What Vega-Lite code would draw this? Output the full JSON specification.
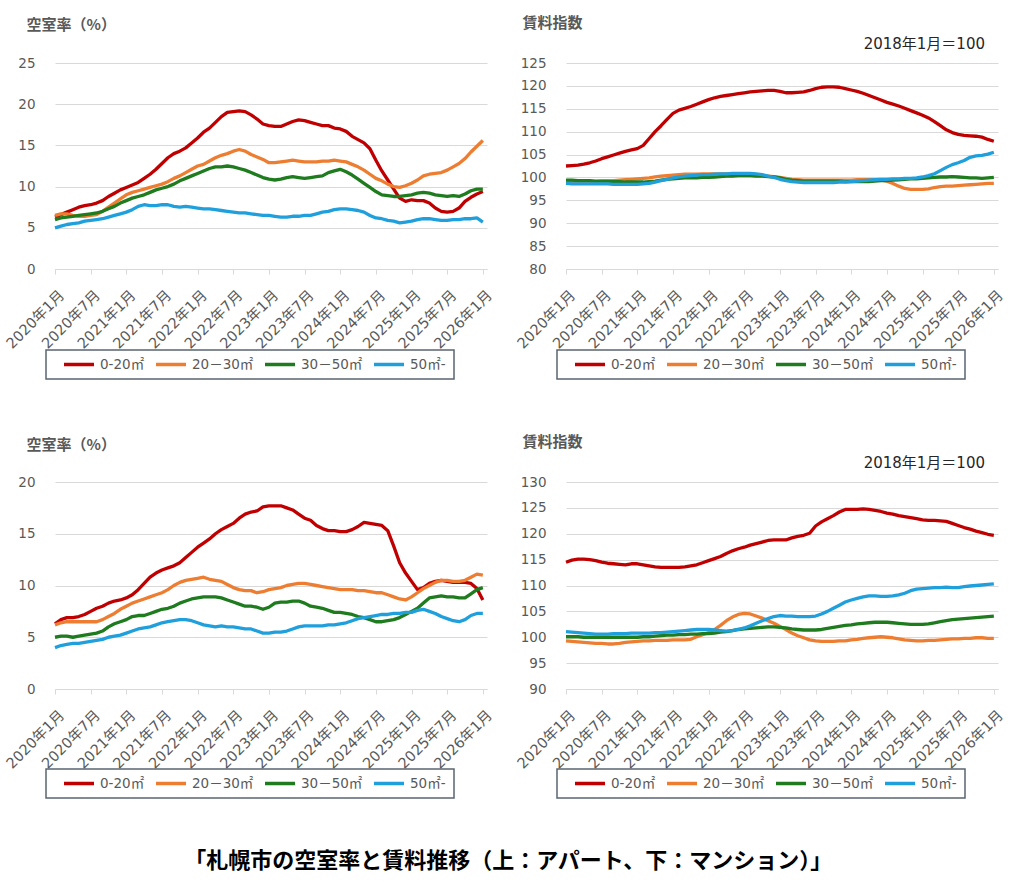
{
"$schema": "https://vega.github.io/schema/vega-lite/v6.json",
"background": "white",
"padding": {"left": 3, "top": 15, "right": 5, "bottom": 5},
"title": {"text": "「札幌市の空室率と賃料推移（上：アパート、下：マンション）」", "orient": "bottom", "anchor": "middle", "fontSize": 22, "fontWeight": "bold", "color": "#000000", "font": "Noto Sans CJK JP", "offset": 52, "dx": 4},
"datasets": {
"tl": [
{"s":"A","m":0,"v":6.3},{"s":"A","m":1,"v":6.6},{"s":"A","m":2,"v":6.9},{"s":"A","m":3,"v":7.2},{"s":"A","m":4,"v":7.5},{"s":"A","m":5,"v":7.7},{"s":"A","m":6,"v":7.8},{"s":"A","m":7,"v":8.0},{"s":"A","m":8,"v":8.3},{"s":"A","m":9,"v":8.8},
{"s":"A","m":10,"v":9.2},{"s":"A","m":11,"v":9.6},{"s":"A","m":12,"v":9.9},{"s":"A","m":13,"v":10.2},{"s":"A","m":14,"v":10.5},{"s":"A","m":15,"v":11.0},{"s":"A","m":16,"v":11.5},{"s":"A","m":17,"v":12.1},{"s":"A","m":18,"v":12.8},{"s":"A","m":19,"v":13.5},
{"s":"A","m":20,"v":14.0},{"s":"A","m":21,"v":14.3},{"s":"A","m":22,"v":14.7},{"s":"A","m":23,"v":15.3},{"s":"A","m":24,"v":15.9},{"s":"A","m":25,"v":16.6},{"s":"A","m":26,"v":17.1},{"s":"A","m":27,"v":17.8},{"s":"A","m":28,"v":18.5},{"s":"A","m":29,"v":19.0},
{"s":"A","m":30,"v":19.1},{"s":"A","m":31,"v":19.2},{"s":"A","m":32,"v":19.1},{"s":"A","m":33,"v":18.7},{"s":"A","m":34,"v":18.2},{"s":"A","m":35,"v":17.6},{"s":"A","m":36,"v":17.4},{"s":"A","m":37,"v":17.3},{"s":"A","m":38,"v":17.3},{"s":"A","m":39,"v":17.6},
{"s":"A","m":40,"v":17.9},{"s":"A","m":41,"v":18.1},{"s":"A","m":42,"v":18.0},{"s":"A","m":43,"v":17.8},{"s":"A","m":44,"v":17.6},{"s":"A","m":45,"v":17.4},{"s":"A","m":46,"v":17.4},{"s":"A","m":47,"v":17.1},{"s":"A","m":48,"v":17.0},{"s":"A","m":49,"v":16.7},
{"s":"A","m":50,"v":16.1},{"s":"A","m":51,"v":15.7},{"s":"A","m":52,"v":15.3},{"s":"A","m":53,"v":14.6},{"s":"A","m":54,"v":13.2},{"s":"A","m":55,"v":11.9},{"s":"A","m":56,"v":10.8},{"s":"A","m":57,"v":9.7},{"s":"A","m":58,"v":8.6},{"s":"A","m":59,"v":8.2},
{"s":"A","m":60,"v":8.4},{"s":"A","m":61,"v":8.3},{"s":"A","m":62,"v":8.3},{"s":"A","m":63,"v":8.0},{"s":"A","m":64,"v":7.4},{"s":"A","m":65,"v":7.0},{"s":"A","m":66,"v":6.9},{"s":"A","m":67,"v":7.0},{"s":"A","m":68,"v":7.4},{"s":"A","m":69,"v":8.2},
{"s":"A","m":70,"v":8.7},{"s":"A","m":71,"v":9.1},{"s":"A","m":72,"v":9.4},
{"s":"B","m":0,"v":6.5},{"s":"B","m":1,"v":6.7},{"s":"B","m":2,"v":6.7},{"s":"B","m":3,"v":6.5},{"s":"B","m":4,"v":6.4},{"s":"B","m":5,"v":6.4},{"s":"B","m":6,"v":6.5},{"s":"B","m":7,"v":6.6},{"s":"B","m":8,"v":7.0},{"s":"B","m":9,"v":7.5},
{"s":"B","m":10,"v":8.0},{"s":"B","m":11,"v":8.5},{"s":"B","m":12,"v":9.0},{"s":"B","m":13,"v":9.3},{"s":"B","m":14,"v":9.5},{"s":"B","m":15,"v":9.7},{"s":"B","m":16,"v":9.9},{"s":"B","m":17,"v":10.1},{"s":"B","m":18,"v":10.3},{"s":"B","m":19,"v":10.6},
{"s":"B","m":20,"v":11.0},{"s":"B","m":21,"v":11.3},{"s":"B","m":22,"v":11.7},{"s":"B","m":23,"v":12.1},{"s":"B","m":24,"v":12.5},{"s":"B","m":25,"v":12.7},{"s":"B","m":26,"v":13.1},{"s":"B","m":27,"v":13.5},{"s":"B","m":28,"v":13.8},{"s":"B","m":29,"v":14.0},
{"s":"B","m":30,"v":14.3},{"s":"B","m":31,"v":14.5},{"s":"B","m":32,"v":14.3},{"s":"B","m":33,"v":13.9},{"s":"B","m":34,"v":13.6},{"s":"B","m":35,"v":13.3},{"s":"B","m":36,"v":12.9},{"s":"B","m":37,"v":12.9},{"s":"B","m":38,"v":13.0},{"s":"B","m":39,"v":13.1},
{"s":"B","m":40,"v":13.2},{"s":"B","m":41,"v":13.1},{"s":"B","m":42,"v":13.0},{"s":"B","m":43,"v":13.0},{"s":"B","m":44,"v":13.0},{"s":"B","m":45,"v":13.1},{"s":"B","m":46,"v":13.1},{"s":"B","m":47,"v":13.2},{"s":"B","m":48,"v":13.1},{"s":"B","m":49,"v":13.0},
{"s":"B","m":50,"v":12.7},{"s":"B","m":51,"v":12.4},{"s":"B","m":52,"v":12.0},{"s":"B","m":53,"v":11.5},{"s":"B","m":54,"v":11.0},{"s":"B","m":55,"v":10.7},{"s":"B","m":56,"v":10.3},{"s":"B","m":57,"v":10.0},{"s":"B","m":58,"v":9.9},{"s":"B","m":59,"v":10.1},
{"s":"B","m":60,"v":10.4},{"s":"B","m":61,"v":10.8},{"s":"B","m":62,"v":11.3},{"s":"B","m":63,"v":11.5},{"s":"B","m":64,"v":11.6},{"s":"B","m":65,"v":11.7},{"s":"B","m":66,"v":12.0},{"s":"B","m":67,"v":12.4},{"s":"B","m":68,"v":12.8},{"s":"B","m":69,"v":13.4},
{"s":"B","m":70,"v":14.2},{"s":"B","m":71,"v":14.9},{"s":"B","m":72,"v":15.6},
{"s":"C","m":0,"v":6.0},{"s":"C","m":1,"v":6.2},{"s":"C","m":2,"v":6.3},{"s":"C","m":3,"v":6.4},{"s":"C","m":4,"v":6.5},{"s":"C","m":5,"v":6.6},{"s":"C","m":6,"v":6.7},{"s":"C","m":7,"v":6.8},{"s":"C","m":8,"v":7.0},{"s":"C","m":9,"v":7.3},
{"s":"C","m":10,"v":7.6},{"s":"C","m":11,"v":8.0},{"s":"C","m":12,"v":8.3},{"s":"C","m":13,"v":8.6},{"s":"C","m":14,"v":8.8},{"s":"C","m":15,"v":9.0},{"s":"C","m":16,"v":9.3},{"s":"C","m":17,"v":9.6},{"s":"C","m":18,"v":9.8},{"s":"C","m":19,"v":10.0},
{"s":"C","m":20,"v":10.3},{"s":"C","m":21,"v":10.7},{"s":"C","m":22,"v":11.0},{"s":"C","m":23,"v":11.3},{"s":"C","m":24,"v":11.6},{"s":"C","m":25,"v":11.9},{"s":"C","m":26,"v":12.2},{"s":"C","m":27,"v":12.4},{"s":"C","m":28,"v":12.4},{"s":"C","m":29,"v":12.5},
{"s":"C","m":30,"v":12.4},{"s":"C","m":31,"v":12.2},{"s":"C","m":32,"v":12.0},{"s":"C","m":33,"v":11.7},{"s":"C","m":34,"v":11.4},{"s":"C","m":35,"v":11.1},{"s":"C","m":36,"v":10.9},{"s":"C","m":37,"v":10.8},{"s":"C","m":38,"v":10.9},{"s":"C","m":39,"v":11.1},
{"s":"C","m":40,"v":11.2},{"s":"C","m":41,"v":11.1},{"s":"C","m":42,"v":11.0},{"s":"C","m":43,"v":11.1},{"s":"C","m":44,"v":11.2},{"s":"C","m":45,"v":11.3},{"s":"C","m":46,"v":11.7},{"s":"C","m":47,"v":11.9},{"s":"C","m":48,"v":12.1},{"s":"C","m":49,"v":11.8},
{"s":"C","m":50,"v":11.4},{"s":"C","m":51,"v":10.9},{"s":"C","m":52,"v":10.4},{"s":"C","m":53,"v":9.9},{"s":"C","m":54,"v":9.4},{"s":"C","m":55,"v":9.0},{"s":"C","m":56,"v":8.9},{"s":"C","m":57,"v":8.8},{"s":"C","m":58,"v":8.8},{"s":"C","m":59,"v":8.9},
{"s":"C","m":60,"v":9.0},{"s":"C","m":61,"v":9.2},{"s":"C","m":62,"v":9.3},{"s":"C","m":63,"v":9.2},{"s":"C","m":64,"v":9.0},{"s":"C","m":65,"v":8.9},{"s":"C","m":66,"v":8.8},{"s":"C","m":67,"v":8.9},{"s":"C","m":68,"v":8.8},{"s":"C","m":69,"v":9.1},
{"s":"C","m":70,"v":9.5},{"s":"C","m":71,"v":9.7},{"s":"C","m":72,"v":9.7},
{"s":"D","m":0,"v":5.0},{"s":"D","m":1,"v":5.2},{"s":"D","m":2,"v":5.4},{"s":"D","m":3,"v":5.5},{"s":"D","m":4,"v":5.6},{"s":"D","m":5,"v":5.8},{"s":"D","m":6,"v":5.9},{"s":"D","m":7,"v":6.0},{"s":"D","m":8,"v":6.1},{"s":"D","m":9,"v":6.3},
{"s":"D","m":10,"v":6.5},{"s":"D","m":11,"v":6.7},{"s":"D","m":12,"v":6.9},{"s":"D","m":13,"v":7.2},{"s":"D","m":14,"v":7.6},{"s":"D","m":15,"v":7.8},{"s":"D","m":16,"v":7.7},{"s":"D","m":17,"v":7.7},{"s":"D","m":18,"v":7.8},{"s":"D","m":19,"v":7.8},
{"s":"D","m":20,"v":7.6},{"s":"D","m":21,"v":7.5},{"s":"D","m":22,"v":7.6},{"s":"D","m":23,"v":7.5},{"s":"D","m":24,"v":7.4},{"s":"D","m":25,"v":7.3},{"s":"D","m":26,"v":7.3},{"s":"D","m":27,"v":7.2},{"s":"D","m":28,"v":7.1},{"s":"D","m":29,"v":7.0},
{"s":"D","m":30,"v":6.9},{"s":"D","m":31,"v":6.8},{"s":"D","m":32,"v":6.8},{"s":"D","m":33,"v":6.7},{"s":"D","m":34,"v":6.6},{"s":"D","m":35,"v":6.5},{"s":"D","m":36,"v":6.5},{"s":"D","m":37,"v":6.4},{"s":"D","m":38,"v":6.3},{"s":"D","m":39,"v":6.3},
{"s":"D","m":40,"v":6.4},{"s":"D","m":41,"v":6.4},{"s":"D","m":42,"v":6.5},{"s":"D","m":43,"v":6.5},{"s":"D","m":44,"v":6.7},{"s":"D","m":45,"v":6.9},{"s":"D","m":46,"v":7.0},{"s":"D","m":47,"v":7.2},{"s":"D","m":48,"v":7.3},{"s":"D","m":49,"v":7.3},
{"s":"D","m":50,"v":7.2},{"s":"D","m":51,"v":7.1},{"s":"D","m":52,"v":6.9},{"s":"D","m":53,"v":6.5},{"s":"D","m":54,"v":6.2},{"s":"D","m":55,"v":6.1},{"s":"D","m":56,"v":5.9},{"s":"D","m":57,"v":5.8},{"s":"D","m":58,"v":5.6},{"s":"D","m":59,"v":5.7},
{"s":"D","m":60,"v":5.8},{"s":"D","m":61,"v":6.0},{"s":"D","m":62,"v":6.1},{"s":"D","m":63,"v":6.1},{"s":"D","m":64,"v":6.0},{"s":"D","m":65,"v":5.9},{"s":"D","m":66,"v":5.9},{"s":"D","m":67,"v":6.0},{"s":"D","m":68,"v":6.0},{"s":"D","m":69,"v":6.1},
{"s":"D","m":70,"v":6.1},{"s":"D","m":71,"v":6.2},{"s":"D","m":72,"v":5.7}
],
"tr": [
{"s":"A","m":0,"v":102.5},{"s":"A","m":1,"v":102.6},{"s":"A","m":2,"v":102.7},{"s":"A","m":3,"v":102.9},{"s":"A","m":4,"v":103.2},{"s":"A","m":5,"v":103.6},{"s":"A","m":6,"v":104.1},{"s":"A","m":7,"v":104.5},{"s":"A","m":8,"v":104.9},{"s":"A","m":9,"v":105.3},
{"s":"A","m":10,"v":105.7},{"s":"A","m":11,"v":106.0},{"s":"A","m":12,"v":106.3},{"s":"A","m":13,"v":107.0},{"s":"A","m":14,"v":108.5},{"s":"A","m":15,"v":110.0},{"s":"A","m":16,"v":111.3},{"s":"A","m":17,"v":112.7},{"s":"A","m":18,"v":114.0},{"s":"A","m":19,"v":114.7},
{"s":"A","m":20,"v":115.1},{"s":"A","m":21,"v":115.5},{"s":"A","m":22,"v":116.0},{"s":"A","m":23,"v":116.5},{"s":"A","m":24,"v":117.0},{"s":"A","m":25,"v":117.4},{"s":"A","m":26,"v":117.7},{"s":"A","m":27,"v":117.9},{"s":"A","m":28,"v":118.1},{"s":"A","m":29,"v":118.3},
{"s":"A","m":30,"v":118.5},{"s":"A","m":31,"v":118.7},{"s":"A","m":32,"v":118.8},{"s":"A","m":33,"v":118.9},{"s":"A","m":34,"v":119.0},{"s":"A","m":35,"v":119.0},{"s":"A","m":36,"v":118.8},{"s":"A","m":37,"v":118.5},{"s":"A","m":38,"v":118.5},{"s":"A","m":39,"v":118.6},
{"s":"A","m":40,"v":118.7},{"s":"A","m":41,"v":119.0},{"s":"A","m":42,"v":119.4},{"s":"A","m":43,"v":119.7},{"s":"A","m":44,"v":119.8},{"s":"A","m":45,"v":119.8},{"s":"A","m":46,"v":119.7},{"s":"A","m":47,"v":119.4},{"s":"A","m":48,"v":119.1},{"s":"A","m":49,"v":118.8},
{"s":"A","m":50,"v":118.4},{"s":"A","m":51,"v":117.9},{"s":"A","m":52,"v":117.4},{"s":"A","m":53,"v":116.9},{"s":"A","m":54,"v":116.4},{"s":"A","m":55,"v":116.0},{"s":"A","m":56,"v":115.6},{"s":"A","m":57,"v":115.1},{"s":"A","m":58,"v":114.6},{"s":"A","m":59,"v":114.1},
{"s":"A","m":60,"v":113.6},{"s":"A","m":61,"v":113.0},{"s":"A","m":62,"v":112.2},{"s":"A","m":63,"v":111.3},{"s":"A","m":64,"v":110.4},{"s":"A","m":65,"v":109.8},{"s":"A","m":66,"v":109.4},{"s":"A","m":67,"v":109.2},{"s":"A","m":68,"v":109.1},{"s":"A","m":69,"v":109.0},
{"s":"A","m":70,"v":108.8},{"s":"A","m":71,"v":108.3},{"s":"A","m":72,"v":107.9},
{"s":"B","m":0,"v":99.0},{"s":"B","m":1,"v":99.0},{"s":"B","m":2,"v":99.0},{"s":"B","m":3,"v":99.0},{"s":"B","m":4,"v":99.1},{"s":"B","m":5,"v":99.1},{"s":"B","m":6,"v":99.2},{"s":"B","m":7,"v":99.2},{"s":"B","m":8,"v":99.3},{"s":"B","m":9,"v":99.4},
{"s":"B","m":10,"v":99.5},{"s":"B","m":11,"v":99.6},{"s":"B","m":12,"v":99.7},{"s":"B","m":13,"v":99.8},{"s":"B","m":14,"v":99.9},{"s":"B","m":15,"v":100.1},{"s":"B","m":16,"v":100.3},{"s":"B","m":17,"v":100.4},{"s":"B","m":18,"v":100.5},{"s":"B","m":19,"v":100.6},
{"s":"B","m":20,"v":100.7},{"s":"B","m":21,"v":100.7},{"s":"B","m":22,"v":100.7},{"s":"B","m":23,"v":100.8},{"s":"B","m":24,"v":100.8},{"s":"B","m":25,"v":100.8},{"s":"B","m":26,"v":100.8},{"s":"B","m":27,"v":100.8},{"s":"B","m":28,"v":100.8},{"s":"B","m":29,"v":100.7},
{"s":"B","m":30,"v":100.7},{"s":"B","m":31,"v":100.6},{"s":"B","m":32,"v":100.5},{"s":"B","m":33,"v":100.4},{"s":"B","m":34,"v":100.3},{"s":"B","m":35,"v":100.2},{"s":"B","m":36,"v":100.0},{"s":"B","m":37,"v":99.8},{"s":"B","m":38,"v":99.6},{"s":"B","m":39,"v":99.5},
{"s":"B","m":40,"v":99.4},{"s":"B","m":41,"v":99.4},{"s":"B","m":42,"v":99.4},{"s":"B","m":43,"v":99.4},{"s":"B","m":44,"v":99.4},{"s":"B","m":45,"v":99.4},{"s":"B","m":46,"v":99.4},{"s":"B","m":47,"v":99.4},{"s":"B","m":48,"v":99.4},{"s":"B","m":49,"v":99.5},
{"s":"B","m":50,"v":99.5},{"s":"B","m":51,"v":99.5},{"s":"B","m":52,"v":99.5},{"s":"B","m":53,"v":99.4},{"s":"B","m":54,"v":99.2},{"s":"B","m":55,"v":98.7},{"s":"B","m":56,"v":98.1},{"s":"B","m":57,"v":97.6},{"s":"B","m":58,"v":97.4},{"s":"B","m":59,"v":97.4},
{"s":"B","m":60,"v":97.4},{"s":"B","m":61,"v":97.5},{"s":"B","m":62,"v":97.8},{"s":"B","m":63,"v":98.0},{"s":"B","m":64,"v":98.1},{"s":"B","m":65,"v":98.1},{"s":"B","m":66,"v":98.2},{"s":"B","m":67,"v":98.3},{"s":"B","m":68,"v":98.4},{"s":"B","m":69,"v":98.5},
{"s":"B","m":70,"v":98.6},{"s":"B","m":71,"v":98.7},{"s":"B","m":72,"v":98.7},
{"s":"C","m":0,"v":99.4},{"s":"C","m":1,"v":99.4},{"s":"C","m":2,"v":99.3},{"s":"C","m":3,"v":99.3},{"s":"C","m":4,"v":99.3},{"s":"C","m":5,"v":99.2},{"s":"C","m":6,"v":99.2},{"s":"C","m":7,"v":99.2},{"s":"C","m":8,"v":99.1},{"s":"C","m":9,"v":99.1},
{"s":"C","m":10,"v":99.0},{"s":"C","m":11,"v":99.0},{"s":"C","m":12,"v":99.0},{"s":"C","m":13,"v":99.0},{"s":"C","m":14,"v":99.1},{"s":"C","m":15,"v":99.2},{"s":"C","m":16,"v":99.4},{"s":"C","m":17,"v":99.6},{"s":"C","m":18,"v":99.7},{"s":"C","m":19,"v":99.8},
{"s":"C","m":20,"v":99.9},{"s":"C","m":21,"v":99.9},{"s":"C","m":22,"v":99.9},{"s":"C","m":23,"v":100.0},{"s":"C","m":24,"v":100.0},{"s":"C","m":25,"v":100.1},{"s":"C","m":26,"v":100.2},{"s":"C","m":27,"v":100.3},{"s":"C","m":28,"v":100.3},{"s":"C","m":29,"v":100.4},
{"s":"C","m":30,"v":100.4},{"s":"C","m":31,"v":100.4},{"s":"C","m":32,"v":100.3},{"s":"C","m":33,"v":100.3},{"s":"C","m":34,"v":100.2},{"s":"C","m":35,"v":100.1},{"s":"C","m":36,"v":99.9},{"s":"C","m":37,"v":99.6},{"s":"C","m":38,"v":99.4},{"s":"C","m":39,"v":99.3},
{"s":"C","m":40,"v":99.2},{"s":"C","m":41,"v":99.2},{"s":"C","m":42,"v":99.2},{"s":"C","m":43,"v":99.2},{"s":"C","m":44,"v":99.2},{"s":"C","m":45,"v":99.2},{"s":"C","m":46,"v":99.2},{"s":"C","m":47,"v":99.1},{"s":"C","m":48,"v":99.1},{"s":"C","m":49,"v":99.1},
{"s":"C","m":50,"v":99.1},{"s":"C","m":51,"v":99.1},{"s":"C","m":52,"v":99.2},{"s":"C","m":53,"v":99.3},{"s":"C","m":54,"v":99.3},{"s":"C","m":55,"v":99.4},{"s":"C","m":56,"v":99.5},{"s":"C","m":57,"v":99.6},{"s":"C","m":58,"v":99.7},{"s":"C","m":59,"v":99.7},
{"s":"C","m":60,"v":99.8},{"s":"C","m":61,"v":99.9},{"s":"C","m":62,"v":100.0},{"s":"C","m":63,"v":100.1},{"s":"C","m":64,"v":100.1},{"s":"C","m":65,"v":100.2},{"s":"C","m":66,"v":100.1},{"s":"C","m":67,"v":100.0},{"s":"C","m":68,"v":99.9},{"s":"C","m":69,"v":99.9},
{"s":"C","m":70,"v":99.8},{"s":"C","m":71,"v":99.9},{"s":"C","m":72,"v":100.0},
{"s":"D","m":0,"v":98.7},{"s":"D","m":1,"v":98.6},{"s":"D","m":2,"v":98.6},{"s":"D","m":3,"v":98.6},{"s":"D","m":4,"v":98.6},{"s":"D","m":5,"v":98.6},{"s":"D","m":6,"v":98.6},{"s":"D","m":7,"v":98.6},{"s":"D","m":8,"v":98.5},{"s":"D","m":9,"v":98.5},
{"s":"D","m":10,"v":98.5},{"s":"D","m":11,"v":98.5},{"s":"D","m":12,"v":98.5},{"s":"D","m":13,"v":98.6},{"s":"D","m":14,"v":98.7},{"s":"D","m":15,"v":99.0},{"s":"D","m":16,"v":99.3},{"s":"D","m":17,"v":99.6},{"s":"D","m":18,"v":99.9},{"s":"D","m":19,"v":100.1},
{"s":"D","m":20,"v":100.3},{"s":"D","m":21,"v":100.4},{"s":"D","m":22,"v":100.5},{"s":"D","m":23,"v":100.6},{"s":"D","m":24,"v":100.6},{"s":"D","m":25,"v":100.7},{"s":"D","m":26,"v":100.8},{"s":"D","m":27,"v":100.8},{"s":"D","m":28,"v":100.9},{"s":"D","m":29,"v":100.9},
{"s":"D","m":30,"v":100.9},{"s":"D","m":31,"v":100.9},{"s":"D","m":32,"v":100.8},{"s":"D","m":33,"v":100.6},{"s":"D","m":34,"v":100.3},{"s":"D","m":35,"v":100.0},{"s":"D","m":36,"v":99.6},{"s":"D","m":37,"v":99.3},{"s":"D","m":38,"v":99.1},{"s":"D","m":39,"v":99.0},
{"s":"D","m":40,"v":98.9},{"s":"D","m":41,"v":98.9},{"s":"D","m":42,"v":98.9},{"s":"D","m":43,"v":98.9},{"s":"D","m":44,"v":98.9},{"s":"D","m":45,"v":98.9},{"s":"D","m":46,"v":99.0},{"s":"D","m":47,"v":99.0},{"s":"D","m":48,"v":99.1},{"s":"D","m":49,"v":99.2},
{"s":"D","m":50,"v":99.3},{"s":"D","m":51,"v":99.4},{"s":"D","m":52,"v":99.5},{"s":"D","m":53,"v":99.6},{"s":"D","m":54,"v":99.6},{"s":"D","m":55,"v":99.7},{"s":"D","m":56,"v":99.7},{"s":"D","m":57,"v":99.8},{"s":"D","m":58,"v":99.8},{"s":"D","m":59,"v":99.9},
{"s":"D","m":60,"v":100.1},{"s":"D","m":61,"v":100.4},{"s":"D","m":62,"v":100.8},{"s":"D","m":63,"v":101.5},{"s":"D","m":64,"v":102.2},{"s":"D","m":65,"v":102.8},{"s":"D","m":66,"v":103.2},{"s":"D","m":67,"v":103.7},{"s":"D","m":68,"v":104.4},{"s":"D","m":69,"v":104.7},
{"s":"D","m":70,"v":104.8},{"s":"D","m":71,"v":105.1},{"s":"D","m":72,"v":105.5}
],
"bl": [
{"s":"A","m":0,"v":6.3},{"s":"A","m":1,"v":6.7},{"s":"A","m":2,"v":6.9},{"s":"A","m":3,"v":6.9},{"s":"A","m":4,"v":7.0},{"s":"A","m":5,"v":7.2},{"s":"A","m":6,"v":7.5},{"s":"A","m":7,"v":7.8},{"s":"A","m":8,"v":8.0},{"s":"A","m":9,"v":8.3},
{"s":"A","m":10,"v":8.5},{"s":"A","m":11,"v":8.6},{"s":"A","m":12,"v":8.8},{"s":"A","m":13,"v":9.1},{"s":"A","m":14,"v":9.6},{"s":"A","m":15,"v":10.2},{"s":"A","m":16,"v":10.8},{"s":"A","m":17,"v":11.2},{"s":"A","m":18,"v":11.5},{"s":"A","m":19,"v":11.7},
{"s":"A","m":20,"v":11.9},{"s":"A","m":21,"v":12.2},{"s":"A","m":22,"v":12.7},{"s":"A","m":23,"v":13.2},{"s":"A","m":24,"v":13.7},{"s":"A","m":25,"v":14.1},{"s":"A","m":26,"v":14.5},{"s":"A","m":27,"v":15.0},{"s":"A","m":28,"v":15.4},{"s":"A","m":29,"v":15.7},
{"s":"A","m":30,"v":16.0},{"s":"A","m":31,"v":16.5},{"s":"A","m":32,"v":16.9},{"s":"A","m":33,"v":17.1},{"s":"A","m":34,"v":17.2},{"s":"A","m":35,"v":17.6},{"s":"A","m":36,"v":17.7},{"s":"A","m":37,"v":17.7},{"s":"A","m":38,"v":17.7},{"s":"A","m":39,"v":17.5},
{"s":"A","m":40,"v":17.3},{"s":"A","m":41,"v":16.9},{"s":"A","m":42,"v":16.5},{"s":"A","m":43,"v":16.3},{"s":"A","m":44,"v":15.8},{"s":"A","m":45,"v":15.5},{"s":"A","m":46,"v":15.3},{"s":"A","m":47,"v":15.3},{"s":"A","m":48,"v":15.2},{"s":"A","m":49,"v":15.2},
{"s":"A","m":50,"v":15.4},{"s":"A","m":51,"v":15.7},{"s":"A","m":52,"v":16.1},{"s":"A","m":53,"v":16.0},{"s":"A","m":54,"v":15.9},{"s":"A","m":55,"v":15.8},{"s":"A","m":56,"v":15.3},{"s":"A","m":57,"v":13.8},{"s":"A","m":58,"v":12.2},{"s":"A","m":59,"v":11.2},
{"s":"A","m":60,"v":10.4},{"s":"A","m":61,"v":9.6},{"s":"A","m":62,"v":9.8},{"s":"A","m":63,"v":10.2},{"s":"A","m":64,"v":10.4},{"s":"A","m":65,"v":10.5},{"s":"A","m":66,"v":10.4},{"s":"A","m":67,"v":10.3},{"s":"A","m":68,"v":10.3},{"s":"A","m":69,"v":10.3},
{"s":"A","m":70,"v":10.2},{"s":"A","m":71,"v":9.7},{"s":"A","m":72,"v":8.6},
{"s":"B","m":0,"v":6.2},{"s":"B","m":1,"v":6.4},{"s":"B","m":2,"v":6.5},{"s":"B","m":3,"v":6.5},{"s":"B","m":4,"v":6.5},{"s":"B","m":5,"v":6.5},{"s":"B","m":6,"v":6.5},{"s":"B","m":7,"v":6.5},{"s":"B","m":8,"v":6.7},{"s":"B","m":9,"v":7.0},
{"s":"B","m":10,"v":7.3},{"s":"B","m":11,"v":7.7},{"s":"B","m":12,"v":8.0},{"s":"B","m":13,"v":8.3},{"s":"B","m":14,"v":8.5},{"s":"B","m":15,"v":8.7},{"s":"B","m":16,"v":8.9},{"s":"B","m":17,"v":9.1},{"s":"B","m":18,"v":9.3},{"s":"B","m":19,"v":9.6},
{"s":"B","m":20,"v":10.0},{"s":"B","m":21,"v":10.3},{"s":"B","m":22,"v":10.5},{"s":"B","m":23,"v":10.6},{"s":"B","m":24,"v":10.7},{"s":"B","m":25,"v":10.8},{"s":"B","m":26,"v":10.6},{"s":"B","m":27,"v":10.5},{"s":"B","m":28,"v":10.4},{"s":"B","m":29,"v":10.1},
{"s":"B","m":30,"v":9.8},{"s":"B","m":31,"v":9.6},{"s":"B","m":32,"v":9.5},{"s":"B","m":33,"v":9.5},{"s":"B","m":34,"v":9.3},{"s":"B","m":35,"v":9.4},{"s":"B","m":36,"v":9.6},{"s":"B","m":37,"v":9.7},{"s":"B","m":38,"v":9.8},{"s":"B","m":39,"v":10.0},
{"s":"B","m":40,"v":10.1},{"s":"B","m":41,"v":10.2},{"s":"B","m":42,"v":10.2},{"s":"B","m":43,"v":10.1},{"s":"B","m":44,"v":10.0},{"s":"B","m":45,"v":9.9},{"s":"B","m":46,"v":9.8},{"s":"B","m":47,"v":9.7},{"s":"B","m":48,"v":9.6},{"s":"B","m":49,"v":9.6},
{"s":"B","m":50,"v":9.6},{"s":"B","m":51,"v":9.5},{"s":"B","m":52,"v":9.5},{"s":"B","m":53,"v":9.4},{"s":"B","m":54,"v":9.3},{"s":"B","m":55,"v":9.3},{"s":"B","m":56,"v":9.1},{"s":"B","m":57,"v":8.9},{"s":"B","m":58,"v":8.7},{"s":"B","m":59,"v":8.6},
{"s":"B","m":60,"v":8.9},{"s":"B","m":61,"v":9.3},{"s":"B","m":62,"v":9.7},{"s":"B","m":63,"v":10.0},{"s":"B","m":64,"v":10.3},{"s":"B","m":65,"v":10.5},{"s":"B","m":66,"v":10.5},{"s":"B","m":67,"v":10.4},{"s":"B","m":68,"v":10.4},{"s":"B","m":69,"v":10.5},
{"s":"B","m":70,"v":10.8},{"s":"B","m":71,"v":11.1},{"s":"B","m":72,"v":11.0},
{"s":"C","m":0,"v":5.0},{"s":"C","m":1,"v":5.1},{"s":"C","m":2,"v":5.1},{"s":"C","m":3,"v":5.0},{"s":"C","m":4,"v":5.1},{"s":"C","m":5,"v":5.2},{"s":"C","m":6,"v":5.3},{"s":"C","m":7,"v":5.4},{"s":"C","m":8,"v":5.6},{"s":"C","m":9,"v":6.0},
{"s":"C","m":10,"v":6.3},{"s":"C","m":11,"v":6.5},{"s":"C","m":12,"v":6.7},{"s":"C","m":13,"v":7.0},{"s":"C","m":14,"v":7.1},{"s":"C","m":15,"v":7.1},{"s":"C","m":16,"v":7.3},{"s":"C","m":17,"v":7.5},{"s":"C","m":18,"v":7.7},{"s":"C","m":19,"v":7.8},
{"s":"C","m":20,"v":8.0},{"s":"C","m":21,"v":8.3},{"s":"C","m":22,"v":8.5},{"s":"C","m":23,"v":8.7},{"s":"C","m":24,"v":8.8},{"s":"C","m":25,"v":8.9},{"s":"C","m":26,"v":8.9},{"s":"C","m":27,"v":8.9},{"s":"C","m":28,"v":8.8},{"s":"C","m":29,"v":8.6},
{"s":"C","m":30,"v":8.4},{"s":"C","m":31,"v":8.2},{"s":"C","m":32,"v":8.0},{"s":"C","m":33,"v":8.0},{"s":"C","m":34,"v":7.9},{"s":"C","m":35,"v":7.7},{"s":"C","m":36,"v":7.9},{"s":"C","m":37,"v":8.3},{"s":"C","m":38,"v":8.4},{"s":"C","m":39,"v":8.4},
{"s":"C","m":40,"v":8.5},{"s":"C","m":41,"v":8.5},{"s":"C","m":42,"v":8.3},{"s":"C","m":43,"v":8.0},{"s":"C","m":44,"v":7.9},{"s":"C","m":45,"v":7.8},{"s":"C","m":46,"v":7.6},{"s":"C","m":47,"v":7.4},{"s":"C","m":48,"v":7.4},{"s":"C","m":49,"v":7.3},
{"s":"C","m":50,"v":7.2},{"s":"C","m":51,"v":7.0},{"s":"C","m":52,"v":6.9},{"s":"C","m":53,"v":6.7},{"s":"C","m":54,"v":6.5},{"s":"C","m":55,"v":6.5},{"s":"C","m":56,"v":6.6},{"s":"C","m":57,"v":6.7},{"s":"C","m":58,"v":6.9},{"s":"C","m":59,"v":7.2},
{"s":"C","m":60,"v":7.5},{"s":"C","m":61,"v":7.8},{"s":"C","m":62,"v":8.3},{"s":"C","m":63,"v":8.8},{"s":"C","m":64,"v":8.9},{"s":"C","m":65,"v":9.0},{"s":"C","m":66,"v":8.9},{"s":"C","m":67,"v":8.9},{"s":"C","m":68,"v":8.8},{"s":"C","m":69,"v":8.8},
{"s":"C","m":70,"v":9.2},{"s":"C","m":71,"v":9.6},{"s":"C","m":72,"v":9.8},
{"s":"D","m":0,"v":4.0},{"s":"D","m":1,"v":4.2},{"s":"D","m":2,"v":4.3},{"s":"D","m":3,"v":4.4},{"s":"D","m":4,"v":4.4},{"s":"D","m":5,"v":4.5},{"s":"D","m":6,"v":4.6},{"s":"D","m":7,"v":4.7},{"s":"D","m":8,"v":4.8},{"s":"D","m":9,"v":5.0},
{"s":"D","m":10,"v":5.1},{"s":"D","m":11,"v":5.2},{"s":"D","m":12,"v":5.4},{"s":"D","m":13,"v":5.6},{"s":"D","m":14,"v":5.8},{"s":"D","m":15,"v":5.9},{"s":"D","m":16,"v":6.0},{"s":"D","m":17,"v":6.2},{"s":"D","m":18,"v":6.4},{"s":"D","m":19,"v":6.5},
{"s":"D","m":20,"v":6.6},{"s":"D","m":21,"v":6.7},{"s":"D","m":22,"v":6.7},{"s":"D","m":23,"v":6.6},{"s":"D","m":24,"v":6.4},{"s":"D","m":25,"v":6.2},{"s":"D","m":26,"v":6.1},{"s":"D","m":27,"v":6.0},{"s":"D","m":28,"v":6.1},{"s":"D","m":29,"v":6.0},
{"s":"D","m":30,"v":6.0},{"s":"D","m":31,"v":5.9},{"s":"D","m":32,"v":5.8},{"s":"D","m":33,"v":5.8},{"s":"D","m":34,"v":5.6},{"s":"D","m":35,"v":5.4},{"s":"D","m":36,"v":5.4},{"s":"D","m":37,"v":5.5},{"s":"D","m":38,"v":5.5},{"s":"D","m":39,"v":5.6},
{"s":"D","m":40,"v":5.8},{"s":"D","m":41,"v":6.0},{"s":"D","m":42,"v":6.1},{"s":"D","m":43,"v":6.1},{"s":"D","m":44,"v":6.1},{"s":"D","m":45,"v":6.1},{"s":"D","m":46,"v":6.2},{"s":"D","m":47,"v":6.2},{"s":"D","m":48,"v":6.3},{"s":"D","m":49,"v":6.4},
{"s":"D","m":50,"v":6.6},{"s":"D","m":51,"v":6.8},{"s":"D","m":52,"v":6.9},{"s":"D","m":53,"v":7.0},{"s":"D","m":54,"v":7.1},{"s":"D","m":55,"v":7.2},{"s":"D","m":56,"v":7.2},{"s":"D","m":57,"v":7.3},{"s":"D","m":58,"v":7.3},{"s":"D","m":59,"v":7.4},
{"s":"D","m":60,"v":7.4},{"s":"D","m":61,"v":7.6},{"s":"D","m":62,"v":7.7},{"s":"D","m":63,"v":7.5},{"s":"D","m":64,"v":7.3},{"s":"D","m":65,"v":7.0},{"s":"D","m":66,"v":6.8},{"s":"D","m":67,"v":6.6},{"s":"D","m":68,"v":6.5},{"s":"D","m":69,"v":6.7},
{"s":"D","m":70,"v":7.1},{"s":"D","m":71,"v":7.3},{"s":"D","m":72,"v":7.3}
],
"br": [
{"s":"A","m":0,"v":114.5},{"s":"A","m":1,"v":114.9},{"s":"A","m":2,"v":115.1},{"s":"A","m":3,"v":115.1},{"s":"A","m":4,"v":115.0},{"s":"A","m":5,"v":114.8},{"s":"A","m":6,"v":114.5},{"s":"A","m":7,"v":114.3},{"s":"A","m":8,"v":114.2},{"s":"A","m":9,"v":114.1},
{"s":"A","m":10,"v":114.0},{"s":"A","m":11,"v":114.2},{"s":"A","m":12,"v":114.2},{"s":"A","m":13,"v":114.0},{"s":"A","m":14,"v":113.8},{"s":"A","m":15,"v":113.6},{"s":"A","m":16,"v":113.5},{"s":"A","m":17,"v":113.5},{"s":"A","m":18,"v":113.5},{"s":"A","m":19,"v":113.5},
{"s":"A","m":20,"v":113.6},{"s":"A","m":21,"v":113.8},{"s":"A","m":22,"v":114.0},{"s":"A","m":23,"v":114.4},{"s":"A","m":24,"v":114.8},{"s":"A","m":25,"v":115.2},{"s":"A","m":26,"v":115.6},{"s":"A","m":27,"v":116.2},{"s":"A","m":28,"v":116.7},{"s":"A","m":29,"v":117.1},
{"s":"A","m":30,"v":117.4},{"s":"A","m":31,"v":117.8},{"s":"A","m":32,"v":118.1},{"s":"A","m":33,"v":118.4},{"s":"A","m":34,"v":118.7},{"s":"A","m":35,"v":118.8},{"s":"A","m":36,"v":118.8},{"s":"A","m":37,"v":118.8},{"s":"A","m":38,"v":119.2},{"s":"A","m":39,"v":119.5},
{"s":"A","m":40,"v":119.7},{"s":"A","m":41,"v":120.1},{"s":"A","m":42,"v":121.5},{"s":"A","m":43,"v":122.3},{"s":"A","m":44,"v":122.9},{"s":"A","m":45,"v":123.5},{"s":"A","m":46,"v":124.2},{"s":"A","m":47,"v":124.7},{"s":"A","m":48,"v":124.7},{"s":"A","m":49,"v":124.7},
{"s":"A","m":50,"v":124.8},{"s":"A","m":51,"v":124.7},{"s":"A","m":52,"v":124.5},{"s":"A","m":53,"v":124.3},{"s":"A","m":54,"v":124.0},{"s":"A","m":55,"v":123.8},{"s":"A","m":56,"v":123.5},{"s":"A","m":57,"v":123.3},{"s":"A","m":58,"v":123.1},{"s":"A","m":59,"v":122.9},
{"s":"A","m":60,"v":122.7},{"s":"A","m":61,"v":122.6},{"s":"A","m":62,"v":122.6},{"s":"A","m":63,"v":122.5},{"s":"A","m":64,"v":122.4},{"s":"A","m":65,"v":122.0},{"s":"A","m":66,"v":121.6},{"s":"A","m":67,"v":121.2},{"s":"A","m":68,"v":120.9},{"s":"A","m":69,"v":120.5},
{"s":"A","m":70,"v":120.2},{"s":"A","m":71,"v":119.9},{"s":"A","m":72,"v":119.7},
{"s":"B","m":0,"v":99.3},{"s":"B","m":1,"v":99.2},{"s":"B","m":2,"v":99.1},{"s":"B","m":3,"v":99.0},{"s":"B","m":4,"v":98.9},{"s":"B","m":5,"v":98.8},{"s":"B","m":6,"v":98.8},{"s":"B","m":7,"v":98.7},{"s":"B","m":8,"v":98.7},{"s":"B","m":9,"v":98.8},
{"s":"B","m":10,"v":99.0},{"s":"B","m":11,"v":99.1},{"s":"B","m":12,"v":99.2},{"s":"B","m":13,"v":99.3},{"s":"B","m":14,"v":99.3},{"s":"B","m":15,"v":99.4},{"s":"B","m":16,"v":99.4},{"s":"B","m":17,"v":99.4},{"s":"B","m":18,"v":99.5},{"s":"B","m":19,"v":99.5},
{"s":"B","m":20,"v":99.5},{"s":"B","m":21,"v":99.6},{"s":"B","m":22,"v":100.1},{"s":"B","m":23,"v":100.5},{"s":"B","m":24,"v":100.9},{"s":"B","m":25,"v":101.5},{"s":"B","m":26,"v":102.3},{"s":"B","m":27,"v":103.2},{"s":"B","m":28,"v":103.9},{"s":"B","m":29,"v":104.4},
{"s":"B","m":30,"v":104.6},{"s":"B","m":31,"v":104.5},{"s":"B","m":32,"v":104.1},{"s":"B","m":33,"v":103.7},{"s":"B","m":34,"v":103.2},{"s":"B","m":35,"v":102.7},{"s":"B","m":36,"v":102.1},{"s":"B","m":37,"v":101.5},{"s":"B","m":38,"v":100.8},{"s":"B","m":39,"v":100.3},
{"s":"B","m":40,"v":99.9},{"s":"B","m":41,"v":99.5},{"s":"B","m":42,"v":99.3},{"s":"B","m":43,"v":99.2},{"s":"B","m":44,"v":99.2},{"s":"B","m":45,"v":99.2},{"s":"B","m":46,"v":99.3},{"s":"B","m":47,"v":99.3},{"s":"B","m":48,"v":99.5},{"s":"B","m":49,"v":99.6},
{"s":"B","m":50,"v":99.8},{"s":"B","m":51,"v":99.9},{"s":"B","m":52,"v":100.0},{"s":"B","m":53,"v":100.1},{"s":"B","m":54,"v":100.0},{"s":"B","m":55,"v":99.9},{"s":"B","m":56,"v":99.7},{"s":"B","m":57,"v":99.5},{"s":"B","m":58,"v":99.4},{"s":"B","m":59,"v":99.3},
{"s":"B","m":60,"v":99.3},{"s":"B","m":61,"v":99.4},{"s":"B","m":62,"v":99.4},{"s":"B","m":63,"v":99.5},{"s":"B","m":64,"v":99.6},{"s":"B","m":65,"v":99.7},{"s":"B","m":66,"v":99.7},{"s":"B","m":67,"v":99.8},{"s":"B","m":68,"v":99.8},{"s":"B","m":69,"v":99.9},
{"s":"B","m":70,"v":99.9},{"s":"B","m":71,"v":99.8},{"s":"B","m":72,"v":99.8},
{"s":"C","m":0,"v":100.1},{"s":"C","m":1,"v":100.1},{"s":"C","m":2,"v":100.1},{"s":"C","m":3,"v":100.0},{"s":"C","m":4,"v":100.0},{"s":"C","m":5,"v":100.0},{"s":"C","m":6,"v":100.0},{"s":"C","m":7,"v":100.0},{"s":"C","m":8,"v":100.0},{"s":"C","m":9,"v":100.0},
{"s":"C","m":10,"v":100.0},{"s":"C","m":11,"v":100.0},{"s":"C","m":12,"v":100.0},{"s":"C","m":13,"v":100.1},{"s":"C","m":14,"v":100.1},{"s":"C","m":15,"v":100.2},{"s":"C","m":16,"v":100.3},{"s":"C","m":17,"v":100.4},{"s":"C","m":18,"v":100.4},{"s":"C","m":19,"v":100.5},
{"s":"C","m":20,"v":100.5},{"s":"C","m":21,"v":100.6},{"s":"C","m":22,"v":100.6},{"s":"C","m":23,"v":100.7},{"s":"C","m":24,"v":100.7},{"s":"C","m":25,"v":100.8},{"s":"C","m":26,"v":101.0},{"s":"C","m":27,"v":101.1},{"s":"C","m":28,"v":101.3},{"s":"C","m":29,"v":101.5},
{"s":"C","m":30,"v":101.6},{"s":"C","m":31,"v":101.7},{"s":"C","m":32,"v":101.8},{"s":"C","m":33,"v":101.9},{"s":"C","m":34,"v":102.0},{"s":"C","m":35,"v":102.0},{"s":"C","m":36,"v":101.9},{"s":"C","m":37,"v":101.8},{"s":"C","m":38,"v":101.6},{"s":"C","m":39,"v":101.5},
{"s":"C","m":40,"v":101.4},{"s":"C","m":41,"v":101.4},{"s":"C","m":42,"v":101.4},{"s":"C","m":43,"v":101.5},{"s":"C","m":44,"v":101.7},{"s":"C","m":45,"v":101.9},{"s":"C","m":46,"v":102.1},{"s":"C","m":47,"v":102.3},{"s":"C","m":48,"v":102.4},{"s":"C","m":49,"v":102.6},
{"s":"C","m":50,"v":102.7},{"s":"C","m":51,"v":102.8},{"s":"C","m":52,"v":102.9},{"s":"C","m":53,"v":102.9},{"s":"C","m":54,"v":102.9},{"s":"C","m":55,"v":102.8},{"s":"C","m":56,"v":102.7},{"s":"C","m":57,"v":102.6},{"s":"C","m":58,"v":102.5},{"s":"C","m":59,"v":102.5},
{"s":"C","m":60,"v":102.5},{"s":"C","m":61,"v":102.6},{"s":"C","m":62,"v":102.8},{"s":"C","m":63,"v":103.0},{"s":"C","m":64,"v":103.2},{"s":"C","m":65,"v":103.4},{"s":"C","m":66,"v":103.5},{"s":"C","m":67,"v":103.6},{"s":"C","m":68,"v":103.7},{"s":"C","m":69,"v":103.8},
{"s":"C","m":70,"v":103.9},{"s":"C","m":71,"v":104.0},{"s":"C","m":72,"v":104.1},
{"s":"D","m":0,"v":101.1},{"s":"D","m":1,"v":101.0},{"s":"D","m":2,"v":100.9},{"s":"D","m":3,"v":100.8},{"s":"D","m":4,"v":100.7},{"s":"D","m":5,"v":100.6},{"s":"D","m":6,"v":100.6},{"s":"D","m":7,"v":100.6},{"s":"D","m":8,"v":100.7},{"s":"D","m":9,"v":100.7},
{"s":"D","m":10,"v":100.7},{"s":"D","m":11,"v":100.8},{"s":"D","m":12,"v":100.8},{"s":"D","m":13,"v":100.8},{"s":"D","m":14,"v":100.8},{"s":"D","m":15,"v":100.9},{"s":"D","m":16,"v":100.9},{"s":"D","m":17,"v":101.0},{"s":"D","m":18,"v":101.1},{"s":"D","m":19,"v":101.2},
{"s":"D","m":20,"v":101.3},{"s":"D","m":21,"v":101.4},{"s":"D","m":22,"v":101.5},{"s":"D","m":23,"v":101.5},{"s":"D","m":24,"v":101.5},{"s":"D","m":25,"v":101.4},{"s":"D","m":26,"v":101.3},{"s":"D","m":27,"v":101.2},{"s":"D","m":28,"v":101.3},{"s":"D","m":29,"v":101.5},
{"s":"D","m":30,"v":101.8},{"s":"D","m":31,"v":102.2},{"s":"D","m":32,"v":102.7},{"s":"D","m":33,"v":103.2},{"s":"D","m":34,"v":103.6},{"s":"D","m":35,"v":104.0},{"s":"D","m":36,"v":104.2},{"s":"D","m":37,"v":104.1},{"s":"D","m":38,"v":104.1},{"s":"D","m":39,"v":104.0},
{"s":"D","m":40,"v":104.0},{"s":"D","m":41,"v":104.0},{"s":"D","m":42,"v":104.1},{"s":"D","m":43,"v":104.5},{"s":"D","m":44,"v":105.0},{"s":"D","m":45,"v":105.6},{"s":"D","m":46,"v":106.2},{"s":"D","m":47,"v":106.8},{"s":"D","m":48,"v":107.2},{"s":"D","m":49,"v":107.5},
{"s":"D","m":50,"v":107.8},{"s":"D","m":51,"v":108.0},{"s":"D","m":52,"v":108.0},{"s":"D","m":53,"v":107.9},{"s":"D","m":54,"v":107.9},{"s":"D","m":55,"v":108.0},{"s":"D","m":56,"v":108.2},{"s":"D","m":57,"v":108.5},{"s":"D","m":58,"v":109.0},{"s":"D","m":59,"v":109.3},
{"s":"D","m":60,"v":109.4},{"s":"D","m":61,"v":109.5},{"s":"D","m":62,"v":109.6},{"s":"D","m":63,"v":109.6},{"s":"D","m":64,"v":109.7},{"s":"D","m":65,"v":109.6},{"s":"D","m":66,"v":109.6},{"s":"D","m":67,"v":109.8},{"s":"D","m":68,"v":109.9},{"s":"D","m":69,"v":110.0},
{"s":"D","m":70,"v":110.1},{"s":"D","m":71,"v":110.2},{"s":"D","m":72,"v":110.3}
]
},
"columns": 2,
"spacing": {"row": 213, "column": 79},
"bounds": "flush",
"resolve": {"scale": {"x": "independent", "y": "independent", "color": "independent"}, "legend": {"color": "independent"}},
"concat": [
{
"width": 432, "height": 206,
"data": {"name": "tl"},
"mark": {"type": "line", "strokeWidth": 3.3, "strokeJoin": "round"},
"encoding": {
"x": {"field": "m", "type": "quantitative", "scale": {"domain": [0, 72.7], "nice": false, "zero": false}, "axis": {"values": [0,6,12,18,24,30,36,42,48,54,60,66,72], "labelExpr": "(2020 + floor(datum.value / 12)) + '年' + (datum.value % 12 + 1) + '月'"}},
"y": {"field": "v", "type": "quantitative", "scale": {"domain": [0, 25], "nice": false}, "axis": {"values": [0,5,10,15,20,25], "title": "空室率（%）", "titleX": -29, "titleY": -38.5}},
"color": {"field": "s", "type": "nominal", "scale": {"domain": ["A","B","C","D"], "range": ["#c00000","#ed7d31","#1e7b1e","#1fa0dc"]}, "legend": {"title": " ", "labelExpr": "datum.label == 'A' ? '0-20㎡' : datum.label == 'B' ? '20－30㎡' : datum.label == 'C' ? '30－50㎡' : '50㎡-'"}}
}
},
{
"width": 432, "height": 206,
"data": {"name": "tr"},
"title": {"text": "2018年1月＝100", "anchor": "end", "frame": "group", "orient": "top", "offset": -37, "dx": -13, "fontSize": 15, "fontWeight": "normal", "color": "#262626", "font": "DejaVu Sans, Noto Sans CJK JP"},
"mark": {"type": "line", "strokeWidth": 3.3, "strokeJoin": "round"},
"encoding": {
"x": {"field": "m", "type": "quantitative", "scale": {"domain": [0, 72.7], "nice": false, "zero": false}, "axis": {"values": [0,6,12,18,24,30,36,42,48,54,60,66,72], "labelExpr": "(2020 + floor(datum.value / 12)) + '年' + (datum.value % 12 + 1) + '月'"}},
"y": {"field": "v", "type": "quantitative", "scale": {"domain": [80, 125], "nice": false, "zero": false}, "axis": {"values": [80,85,90,95,100,105,110,115,120,125], "title": "賃料指数", "titleX": -44, "titleY": -41}},
"color": {"field": "s", "type": "nominal", "scale": {"domain": ["A","B","C","D"], "range": ["#c00000","#ed7d31","#1e7b1e","#1fa0dc"]}, "legend": {"title": " ", "labelExpr": "datum.label == 'A' ? '0-20㎡' : datum.label == 'B' ? '20－30㎡' : datum.label == 'C' ? '30－50㎡' : '50㎡-'"}}
}
},
{
"width": 432, "height": 207,
"data": {"name": "bl"},
"mark": {"type": "line", "strokeWidth": 3.3, "strokeJoin": "round"},
"encoding": {
"x": {"field": "m", "type": "quantitative", "scale": {"domain": [0, 72.7], "nice": false, "zero": false}, "axis": {"values": [0,6,12,18,24,30,36,42,48,54,60,66,72], "labelExpr": "(2020 + floor(datum.value / 12)) + '年' + (datum.value % 12 + 1) + '月'"}},
"y": {"field": "v", "type": "quantitative", "scale": {"domain": [0, 20], "nice": false}, "axis": {"values": [0,5,10,15,20], "title": "空室率（%）", "titleX": -29, "titleY": -38}},
"color": {"field": "s", "type": "nominal", "scale": {"domain": ["A","B","C","D"], "range": ["#c00000","#ed7d31","#1e7b1e","#1fa0dc"]}, "legend": {"title": " ", "labelExpr": "datum.label == 'A' ? '0-20㎡' : datum.label == 'B' ? '20－30㎡' : datum.label == 'C' ? '30－50㎡' : '50㎡-'"}}
}
},
{
"width": 432, "height": 207,
"data": {"name": "br"},
"title": {"text": "2018年1月＝100", "anchor": "end", "frame": "group", "orient": "top", "offset": -37, "dx": -13, "fontSize": 15, "fontWeight": "normal", "color": "#262626", "font": "DejaVu Sans, Noto Sans CJK JP"},
"mark": {"type": "line", "strokeWidth": 3.3, "strokeJoin": "round"},
"encoding": {
"x": {"field": "m", "type": "quantitative", "scale": {"domain": [0, 72.7], "nice": false, "zero": false}, "axis": {"values": [0,6,12,18,24,30,36,42,48,54,60,66,72], "labelExpr": "(2020 + floor(datum.value / 12)) + '年' + (datum.value % 12 + 1) + '月'"}},
"y": {"field": "v", "type": "quantitative", "scale": {"domain": [90, 130], "nice": false, "zero": false}, "axis": {"values": [90,95,100,105,110,115,120,125,130], "title": "賃料指数", "titleX": -44, "titleY": -41}},
"color": {"field": "s", "type": "nominal", "scale": {"domain": ["A","B","C","D"], "range": ["#c00000","#ed7d31","#1e7b1e","#1fa0dc"]}, "legend": {"title": " ", "labelExpr": "datum.label == 'A' ? '0-20㎡' : datum.label == 'B' ? '20－30㎡' : datum.label == 'C' ? '30－50㎡' : '50㎡-'"}}
}
}
],
"config": {
"font": "DejaVu Sans, Noto Sans CJK JP",
"view": {"stroke": null},
"axis": {"labelFont": "DejaVu Sans, Noto Sans CJK JP", "labelColor": "#595959"},
"axisX": {"grid": false, "domainColor": "#d9d9d9", "tickColor": "#d9d9d9", "tickSize": 5, "labelAngle": -45, "labelFontSize": 14.5, "labelPadding": 14, "labelOffset": 2, "title": null, "labelOverlap": false},
"axisY": {"domain": false, "ticks": false, "labelPadding": 20, "labelFontSize": 13.5, "grid": true, "gridColor": "#d9d9d9", "titleAngle": 0, "titleAlign": "left", "titleBaseline": "middle", "titleFontSize": 15, "titleFontWeight": "bold", "titleColor": "#595959", "titleFont": "Noto Sans CJK JP"},
"legend": {"orient": "none", "legendX": -9, "legendY": 287, "direction": "horizontal", "symbolType": "stroke", "symbolSize": 900, "symbolStrokeWidth": 3.5, "clipHeight": 13, "labelFontSize": 13.5, "labelColor": "#595959", "labelFont": "DejaVu Sans, Noto Sans CJK JP", "labelOffset": 4, "columnPadding": 9, "padding": 8, "strokeColor": "#5a6470", "strokeWidth": 1.5, "titleOrient": "left", "titlePadding": 8, "titleFontSize": 1}
}
}
